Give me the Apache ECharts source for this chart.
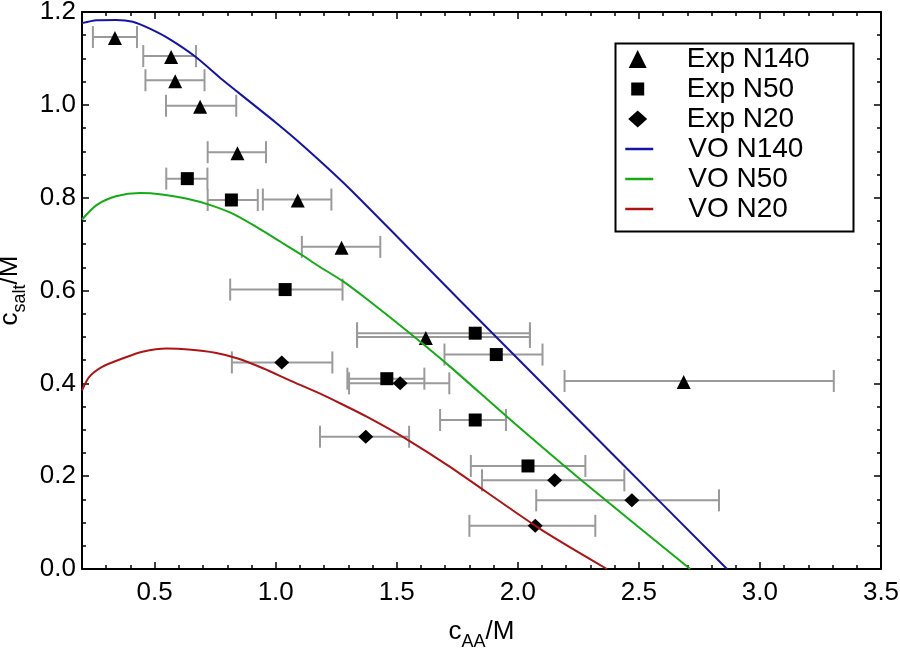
<!DOCTYPE html>
<html><head><meta charset="utf-8">
<script src="https://cdn.jsdelivr.net/npm/echarts@6/dist/echarts.min.js"></script>
<style>html,body{margin:0;padding:0;background:#fff}#c{width:900px;height:651px}</style>
</head><body><div id="c"></div>
<script>
// ---- tick values ----
const xMajorTicks = [0.5, 1.0, 1.5, 2.0, 2.5, 3.0, 3.5];
const xMinorTicks = [0.3, 0.4, 0.6, 0.7, 0.8, 0.9, 1.1, 1.2, 1.3, 1.4, 1.6, 1.7, 1.8, 1.9,
                     2.1, 2.2, 2.3, 2.4, 2.6, 2.7, 2.8, 2.9, 3.1, 3.2, 3.3, 3.4];

// ---- experimental data: x, y, x error low/high ----
const n140X  = [0.336, 0.568, 0.585, 0.688, 0.842, 1.091, 1.272, 1.620, 2.685];
const n140Y  = [1.146, 1.105, 1.053, 0.998, 0.898, 0.796, 0.694, 0.500, 0.405];
const n140Lo = [0.245, 0.453, 0.462, 0.547, 0.719, 0.947, 1.108, 1.336, 2.193];
const n140Hi = [0.427, 0.671, 0.706, 0.837, 0.960, 1.230, 1.432, 2.050, 3.305];

const n50X  = [0.635, 0.817, 1.039, 1.824, 1.911, 1.459, 1.824, 2.042];
const n50Y  = [0.841, 0.795, 0.602, 0.508, 0.462, 0.410, 0.321, 0.222];
const n50Lo = [0.548, 0.719, 0.812, 1.336, 1.697, 1.296, 1.679, 1.806];
const n50Hi = [0.718, 0.926, 1.276, 2.050, 2.102, 1.614, 1.951, 2.279];

const n20X  = [1.025, 1.514, 1.372, 2.152, 2.471, 2.072];
const n20Y  = [0.445, 0.400, 0.285, 0.191, 0.148, 0.093];
const n20Lo = [0.819, 1.303, 1.183, 1.852, 2.076, 1.800];
const n20Hi = [1.234, 1.717, 1.551, 2.440, 2.831, 2.320];

// ---- VO model curves ----
const voN140X = [0.2, 0.26, 0.34, 0.41, 0.48, 0.56, 0.67, 0.78, 0.89, 1.0, 1.1, 1.2, 1.3, 1.5, 1.76, 2.0, 2.4, 2.864];
const voN140Y = [1.176, 1.182, 1.183, 1.179, 1.164, 1.142, 1.103, 1.054, 1.008, 0.962, 0.918, 0.871, 0.822, 0.717, 0.579, 0.453, 0.243, 0];
const voN50X = [0.2, 0.26, 0.34, 0.44, 0.53, 0.63, 0.73, 0.82, 0.92, 1.02, 1.11, 1.17, 1.28, 1.38, 1.53, 1.72, 1.955, 2.27, 2.712];
const voN50Y = [0.753, 0.784, 0.803, 0.810, 0.807, 0.798, 0.784, 0.766, 0.737, 0.705, 0.676, 0.655, 0.619, 0.580, 0.518, 0.436, 0.328, 0.188, 0];
const voN20X = [0.2, 0.23, 0.285, 0.37, 0.45, 0.55, 0.64, 0.75, 0.84, 0.95, 1.06, 1.17, 1.27, 1.38, 1.54, 1.72, 2.09, 2.368];
const voN20Y = [0.385, 0.414, 0.436, 0.454, 0.468, 0.475, 0.473, 0.466, 0.454, 0.432, 0.406, 0.381, 0.356, 0.327, 0.280, 0.220, 0.087, 0];

const names = ['Exp N140', 'Exp N50', 'Exp N20', 'VO N140', 'VO N50', 'VO N20'];

// ---- helpers ----
const FF = "'Liberation Sans', Arial, Helvetica, sans-serif";
const zip = (a, b) => a.map((v, i) => [v, b[i]]);
const errData = (lo, hi, y) => lo.map((v, i) => [v, hi[i], y[i]]);

function errRender(params, api) {
  const y = api.value(2);
  const p1 = api.coord([api.value(0), y]);
  const p2 = api.coord([api.value(1), y]);
  const h = 11;
  const st = { stroke: '#9a9a9a', lineWidth: 2 };
  return {
    type: 'group',
    children: [
      { type: 'line', shape: { x1: p1[0], y1: p1[1], x2: p2[0], y2: p2[1] }, style: st },
      { type: 'line', shape: { x1: p1[0], y1: p1[1] - h, x2: p1[0], y2: p1[1] + h }, style: st },
      { type: 'line', shape: { x1: p2[0], y1: p2[1] - h, x2: p2[0], y2: p2[1] + h }, style: st }
    ]
  };
}

const titleRich = {
  c: { fontSize: 26, color: '#000', fontFamily: FF, verticalAlign: 'bottom', padding: [0, 0, 6, 0] },
  s: { fontSize: 18, color: '#000', fontFamily: FF, verticalAlign: 'bottom' }
};

const lineC = { color: '#000', width: 2 };
const tickC = { color: '#000', width: 1.5 };
const xRange = { min: 0.2, max: 3.5 };
const yRange = { min: 0, max: 1.2, interval: 0.2 };

function legendText(padLeft) {
  return { fontSize: 28, lineHeight: 30, fontFamily: FF, color: '#000', padding: [0, 0, 0, padLeft] };
}

const gridBox = { left: 82, right: 19, top: 12, bottom: 82, containLabel: false, outerBoundsMode: 'none' };

const option = {
  animation: false,
  backgroundColor: '#fff',
  grid: [ { ...gridBox }, { ...gridBox } ],
  xAxis: [
    { type: 'value', gridIndex: 0, position: 'bottom', ...xRange,
      axisLine: { show: true, onZero: false, lineStyle: lineC },
      axisTick: { show: true, inside: true, length: 7, lineStyle: tickC, customValues: xMajorTicks },
      axisLabel: { show: true, customValues: xMajorTicks, margin: 11, color: '#000', fontSize: 26, fontFamily: FF,
                   formatter: v => Number(v).toFixed(1) },
      splitLine: { show: false },
      name: '{c|c}{s|AA}{c|/M}', nameLocation: 'middle', nameGap: 50,
      nameTextStyle: { rich: titleRich } },
    { type: 'value', gridIndex: 0, position: 'top', ...xRange,
      axisLine: { show: true, onZero: false, lineStyle: lineC },
      axisTick: { show: true, inside: true, length: 7, lineStyle: tickC, customValues: xMajorTicks },
      axisLabel: { show: false }, splitLine: { show: false } },
    { type: 'value', gridIndex: 1, position: 'bottom', ...xRange,
      axisLine: { show: false, onZero: false },
      axisTick: { show: true, inside: true, length: 4, lineStyle: tickC, customValues: xMinorTicks },
      axisLabel: { show: false }, splitLine: { show: false } },
    { type: 'value', gridIndex: 1, position: 'top', ...xRange,
      axisLine: { show: false, onZero: false },
      axisTick: { show: true, inside: true, length: 4, lineStyle: tickC, customValues: xMinorTicks },
      axisLabel: { show: false }, splitLine: { show: false } }
  ],
  yAxis: [
    { type: 'value', gridIndex: 0, position: 'left', ...yRange,
      axisLine: { show: true, onZero: false, lineStyle: lineC },
      axisTick: { show: true, inside: true, length: 7, lineStyle: tickC },
      minorTick: { show: true, splitNumber: 4, length: 4, lineStyle: tickC },
      axisLabel: { show: true, margin: 6, color: '#000', fontSize: 26, fontFamily: FF,
                   formatter: v => Number(v).toFixed(1) },
      splitLine: { show: false }, minorSplitLine: { show: false },
      name: '{c|c}{s|salt}{c|/M}', nameLocation: 'middle', nameGap: 48, nameRotate: 90,
      nameTextStyle: { rich: titleRich } },
    { type: 'value', gridIndex: 0, position: 'right', ...yRange,
      axisLine: { show: true, onZero: false, lineStyle: lineC },
      axisTick: { show: true, inside: true, length: 7, lineStyle: tickC },
      minorTick: { show: true, splitNumber: 4, length: 4, lineStyle: tickC },
      axisLabel: { show: false }, splitLine: { show: false } },
    { type: 'value', gridIndex: 1, position: 'left', ...yRange, show: false },
    { type: 'value', gridIndex: 1, position: 'right', ...yRange, show: false }
  ],
  legend: [
    { data: [names[0]], left: 628.7, top: 44, padding: 0, orient: 'vertical', itemGap: 0,
      itemWidth: 18, itemHeight: 18, selectedMode: false, textStyle: legendText(35) },
    { data: [names[1]], left: 631.2, top: 74, padding: 0, orient: 'vertical', itemGap: 0,
      itemWidth: 13, itemHeight: 13, selectedMode: false, textStyle: legendText(37.5) },
    { data: [names[2]], left: 628.2, top: 104, padding: 0, orient: 'vertical', itemGap: 0,
      itemWidth: 19, itemHeight: 17, selectedMode: false, textStyle: legendText(34.5) },
    { data: names.slice(3), left: 624, top: 134, padding: 0, orient: 'vertical', itemGap: 0,
      itemWidth: 28, itemHeight: 18, selectedMode: false, itemStyle: { opacity: 0 },
      lineStyle: { width: 2.5 }, textStyle: legendText(30) }
  ],
  graphic: [
    { type: 'rect', left: 613, top: 41, shape: { width: 238, height: 188 },
      style: { fill: 'none', stroke: '#000', lineWidth: 2 }, z: 100 }
  ],
  series: [
    { name: names[3], type: 'line', xAxisIndex: 0, yAxisIndex: 0, data: zip(voN140X, voN140Y),
      smooth: 0.25, symbol: 'none', lineStyle: { color: '#1414a8', width: 2 }, itemStyle: { color: '#1414a8' } },
    { name: names[4], type: 'line', xAxisIndex: 0, yAxisIndex: 0, data: zip(voN50X, voN50Y),
      smooth: 0.25, symbol: 'none', lineStyle: { color: '#14ac14', width: 2 }, itemStyle: { color: '#14ac14' } },
    { name: names[5], type: 'line', xAxisIndex: 0, yAxisIndex: 0, data: zip(voN20X, voN20Y),
      smooth: 0.25, symbol: 'none', lineStyle: { color: '#ae1414', width: 2 }, itemStyle: { color: '#ae1414' } },
    { type: 'custom', xAxisIndex: 0, yAxisIndex: 0, renderItem: errRender, data: errData(n140Lo, n140Hi, n140Y),
      encode: { x: [0, 1], y: 2 } },
    { type: 'custom', xAxisIndex: 0, yAxisIndex: 0, renderItem: errRender, data: errData(n50Lo, n50Hi, n50Y),
      encode: { x: [0, 1], y: 2 } },
    { type: 'custom', xAxisIndex: 0, yAxisIndex: 0, renderItem: errRender, data: errData(n20Lo, n20Hi, n20Y),
      encode: { x: [0, 1], y: 2 } },
    { name: names[0], type: 'scatter', xAxisIndex: 0, yAxisIndex: 0, data: zip(n140X, n140Y),
      symbol: 'triangle', symbolSize: 14, symbolOffset: [0, 1], itemStyle: { color: '#000', opacity: 1 } },
    { name: names[1], type: 'scatter', xAxisIndex: 0, yAxisIndex: 0, data: zip(n50X, n50Y),
      symbol: 'rect', symbolSize: 13, itemStyle: { color: '#000', opacity: 1 } },
    { name: names[2], type: 'scatter', xAxisIndex: 0, yAxisIndex: 0, data: zip(n20X, n20Y),
      symbol: 'diamond', symbolSize: [15, 14], itemStyle: { color: '#000', opacity: 1 } }
  ]
};

const chart = echarts.init(document.getElementById('c'), null, { renderer: 'canvas' });
chart.setOption(option);
</script>
</body></html>
